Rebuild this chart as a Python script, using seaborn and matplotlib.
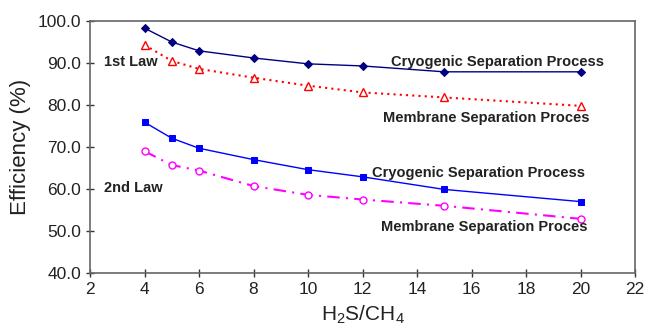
import matplotlib
matplotlib.use("Agg")
import matplotlib.pyplot as plt
import seaborn as sns
import pandas as pd

ratio = [4, 5, 6, 8, 10, 12, 15, 20]
cryo_1st = [98.3, 95.0, 92.9, 91.2, 89.8, 89.3, 87.9, 87.9]
memb_1st = [94.3, 90.5, 88.6, 86.5, 84.6, 83.0, 81.8, 79.8]
cryo_2nd = [75.9, 72.1, 69.7, 67.0, 64.6, 62.9, 59.9, 57.0]
memb_2nd = [69.0, 65.7, 64.4, 60.7, 58.6, 57.5, 56.0, 52.9]

x_ticks = [2, 4, 6, 8, 10, 12, 14, 16, 18, 20, 22]
y_ticks = [40, 50, 60, 70, 80, 90, 100]

sns.set_style("ticks")
plt.rcParams['font.family'] = ['Liberation Sans', 'DejaVu Sans']
plt.rcParams['mathtext.default'] = 'regular'

fig = plt.figure(figsize=(6.49, 3.28), dpi=100)
ax = fig.add_axes([90/649, 1-273/328, (635-90)/649, (273-21)/328])

sns.lineplot(x=ratio, y=cryo_1st, ax=ax, color='#000080', lw=1.0, marker='D',
             markersize=4.5, markeredgecolor='#000080', sort=False)
sns.lineplot(x=ratio, y=memb_1st, ax=ax, color='#FF0000', lw=1.5, ls=(0, (1, 2)),
             marker='^', markersize=6, markerfacecolor='white',
             markeredgecolor='#FF0000', markeredgewidth=1.0, sort=False)
sns.lineplot(x=ratio, y=cryo_2nd, ax=ax, color='#0000FF', lw=1.0, marker='s',
             markersize=5, markeredgecolor='#0000FF', sort=False)
sns.lineplot(x=ratio, y=memb_2nd, ax=ax, color='#FF00FF', lw=1.5, ls=(0, (6, 3, 1, 3)),
             marker='o', markersize=5, markerfacecolor='white',
             markeredgecolor='#FF00FF', markeredgewidth=1.0, sort=False)

ax.set_xlim(2, 22)
ax.set_ylim(40, 100)
ax.set_xticks(x_ticks)
ax.set_yticks(y_ticks)
ax.set_yticklabels([f"{v:.1f}" for v in y_ticks])
ax.tick_params(direction='inout', length=6, width=1, colors='#333333',
               labelsize=12.5, labelcolor='#222222')
for s in ax.spines.values():
    s.set_color('#666666')
    s.set_linewidth(1.2)

ax.set_xlabel("H$_2$S/CH$_4$", fontsize=15, labelpad=5, color='#222222')
ax.set_ylabel("Efficiency (%)", fontsize=16, labelpad=5, color='#222222')

kw = dict(fontsize=10.5, fontweight='bold', color='#222222', va='center', ha='left')
ax.text(2.5, 90.2, "1st Law", **kw)
ax.text(2.5, 60.2, "2nd Law", **kw)
ax.text(13.05, 90.2, "Cryogenic Separation Process", **kw)
ax.text(12.75, 76.9, "Membrane Separation Proces", **kw)
ax.text(12.35, 63.8, "Cryogenic Separation Process", **kw)
ax.text(12.68, 51.0, "Membrane Separation Proces", **kw)

fig.savefig("out.png", dpi=100)
